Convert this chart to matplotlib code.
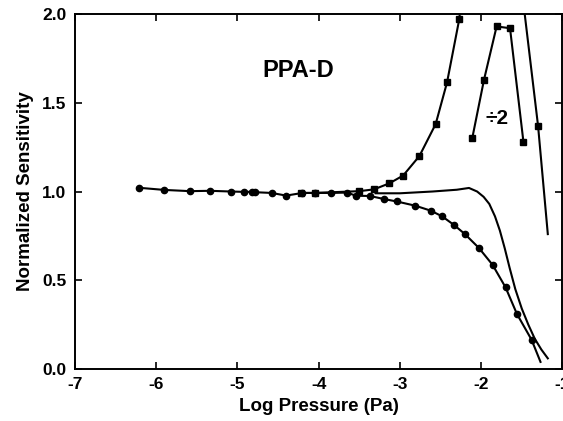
import matplotlib
matplotlib.use("Agg")
import matplotlib.pyplot as plt

plt.rcParams['font.family'] = ['Liberation Sans', 'DejaVu Sans']

# circles: lower branch
circ_x = [-6.21, -5.90, -5.58, -5.34, -5.08, -4.92, -4.82, -4.78, -4.58, -4.40,
          -4.20, -4.05, -3.85, -3.65, -3.54, -3.37, -3.19, -3.04, -2.81, -2.62,
          -2.48, -2.33, -2.20, -2.03, -1.86, -1.70, -1.56, -1.38, -1.27]
circ_y = [1.021, 1.009, 1.002, 1.004, 1.000, 0.998, 0.998, 0.996, 0.992, 0.977,
          0.992, 0.992, 0.992, 0.994, 0.976, 0.975, 0.957, 0.944, 0.920, 0.892,
          0.860, 0.810, 0.760, 0.683, 0.587, 0.460, 0.310, 0.165, 0.040]

# squares: upper branch (goes off the top)
sq_x = [-4.22, -4.05, -3.50, -3.32, -3.13, -2.96, -2.76, -2.56, -2.42, -2.27, -2.25]
sq_y = [0.992, 0.992, 1.002, 1.012, 1.046, 1.090, 1.200, 1.380, 1.615, 1.970, 2.060]

# squares coming back down from above the top
back_x = [-1.48, -1.30, -1.18]
back_y = [2.060, 1.370, 0.760]

# the same series divided by 2
half_x = [-2.11, -1.965, -1.81, -1.645, -1.48]
half_y = [1.30, 1.63, 1.93, 1.92, 1.28]

# plain line, no markers
plain_x = [-3.30, -3.00, -2.60, -2.30, -2.15, -2.05, -1.97, -1.90, -1.83, -1.77,
           -1.71, -1.65, -1.58, -1.50, -1.42, -1.34, -1.26, -1.18]
plain_y = [0.990, 0.990, 1.000, 1.010, 1.020, 1.000, 0.970, 0.930, 0.860, 0.780,
           0.680, 0.570, 0.450, 0.340, 0.250, 0.170, 0.110, 0.060]

xticks = [-7, -6, -5, -4, -3, -2, -1]
yticks = [0.0, 0.5, 1.0, 1.5, 2.0]

fig = plt.figure(figsize=(5.63, 4.21), dpi=100)
ax = fig.add_axes([0.133, 0.1235, 0.866, 0.8432])

lw = 1.5
ax.plot(circ_x, circ_y, color='black', lw=lw, marker='o', markersize=4.5,
        markevery=list(range(len(circ_x) - 1)))
ax.plot(sq_x, sq_y, color='black', lw=lw, marker='s', markersize=4.5,
        markevery=list(range(len(sq_x) - 1)))
ax.plot(back_x, back_y, color='black', lw=lw, marker='s', markersize=4.5, markevery=[1])
ax.plot(half_x, half_y, color='black', lw=lw, marker='s', markersize=4.5)
ax.plot(plain_x, plain_y, color='black', lw=lw)

ax.text(-4.25, 1.68, 'PPA-D', fontsize=17, fontweight='bold', ha='center', va='center')
ax.text(-1.80, 1.41, '÷2', fontsize=15, fontweight='bold', ha='center', va='center')

ax.set_xlim(-7, -1)
ax.set_ylim(0, 2.0)
ax.set_xticks(xticks)
ax.set_yticks(yticks)
ax.set_xticklabels([str(t) for t in xticks])
ax.set_yticklabels(['%.1f' % t for t in yticks])
ax.tick_params(direction='in', top=True, right=True, length=5, width=1.2,
               labelsize=12.5, pad=6)
for lab in ax.get_xticklabels() + ax.get_yticklabels():
    lab.set_fontweight('bold')
for s in ax.spines.values():
    s.set_linewidth(1.4)

ax.set_xlabel('Log Pressure (Pa)', fontsize=13.5, fontweight='bold', labelpad=4)
ax.set_ylabel('Normalized Sensitivity', fontsize=13.5, fontweight='bold', labelpad=6)

fig.savefig('out.png', dpi=100)
